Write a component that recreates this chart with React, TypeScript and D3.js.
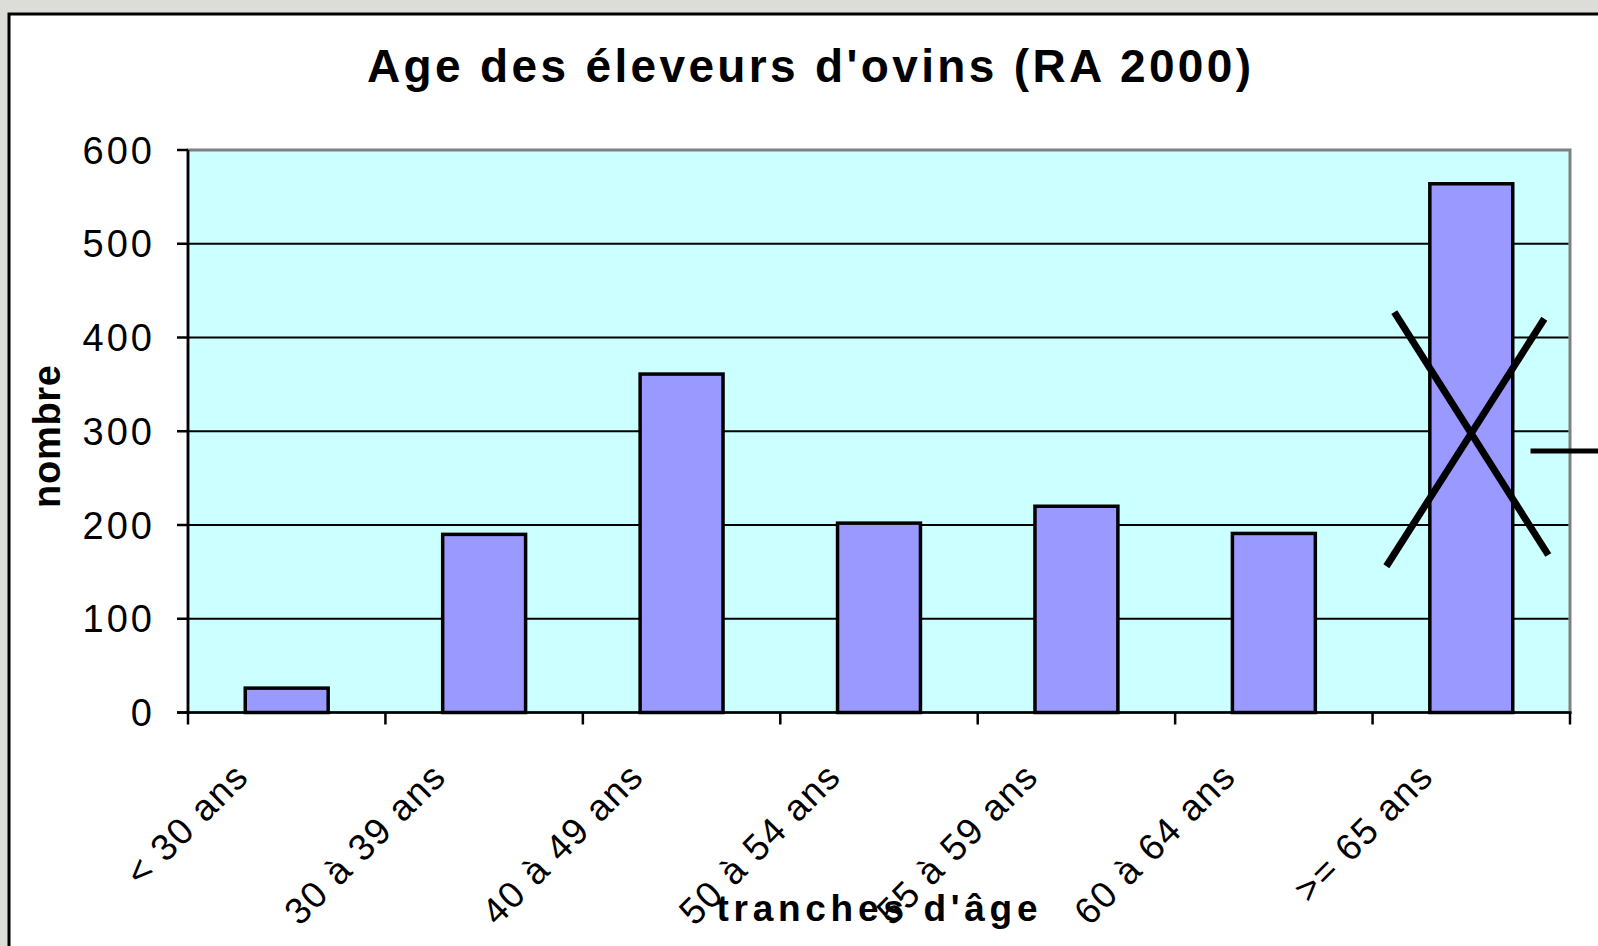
import React, { useRef, useEffect } from 'react';
import * as d3 from 'd3';

const categories = ['< 30 ans', '30 à 39 ans', '40 à 49 ans', '50 à 54 ans', '55 à 59 ans', '60 à 64 ans', '>= 65 ans'];
const values = [26, 190, 361, 202, 220, 191, 564];
const yTicks = [0, 100, 200, 300, 400, 500, 600];

// hand-drawn marks over the last bar, as [fraction of band, value]
const crossLines = [
  { cat: '>= 65 ans', from: [0.11, 427], to: [0.89, 168] },
  { cat: '>= 65 ans', from: [0.87, 420], to: [0.07, 156] },
];
const dashLine = { cat: '>= 65 ans', from: [0.8, 279], to: [1.3, 279] };

const FONT = '"Liberation Sans", Arial, sans-serif';

const App: React.FC = () => {
  const ref = useRef<SVGSVGElement | null>(null);

  useEffect(() => {
    if (!ref.current) return;
    const width = 1598;
    const height = 946;
    const plot = { left: 188, right: 1570, top: 150, bottom: 712.5 };

    const svg = d3.select(ref.current);
    svg.selectAll('*').remove();
    svg.attr('width', width).attr('height', height);

    const x = d3.scaleBand<string>().domain(categories).range([plot.left, plot.right]).padding(0);
    const y = d3.scaleLinear().domain([0, 600]).range([plot.bottom, plot.top]);
    const bw = x.bandwidth();

    // page background + chart panel
    svg.append('rect').attr('width', width).attr('height', height).attr('fill', '#dcdcd8');
    svg.append('rect')
      .attr('x', 9).attr('y', 14)
      .attr('width', width + 100).attr('height', height + 100)
      .attr('fill', '#ffffff').attr('stroke', '#000').attr('stroke-width', 3);

    // plot area
    svg.append('rect')
      .attr('x', plot.left).attr('y', plot.top)
      .attr('width', plot.right - plot.left).attr('height', plot.bottom - plot.top)
      .attr('fill', '#ccffff').attr('stroke', '#808080').attr('stroke-width', 3);

    svg.append('g')
      .selectAll('line')
      .data(yTicks.filter(t => t > 0 && t < 600))
      .enter()
      .append('line')
      .attr('x1', plot.left).attr('x2', plot.right - 1.5)
      .attr('y1', d => y(d)).attr('y2', d => y(d))
      .attr('stroke', '#000').attr('stroke-width', 2);

    // bars
    const barW = bw * 0.42;
    svg.append('g')
      .selectAll('rect')
      .data(values)
      .enter()
      .append('rect')
      .attr('x', (d, i) => (x(categories[i]) as number) + (bw - barW) / 2)
      .attr('y', d => y(d))
      .attr('width', barW)
      .attr('height', d => y(0) - y(d))
      .attr('fill', '#9999ff')
      .attr('stroke', '#000')
      .attr('stroke-width', 3.5);

    // axes
    svg.append('line')
      .attr('x1', plot.left).attr('x2', plot.left)
      .attr('y1', plot.top).attr('y2', plot.bottom)
      .attr('stroke', '#000').attr('stroke-width', 2.5);
    svg.append('line')
      .attr('x1', plot.left - 11).attr('x2', plot.right + 1.5)
      .attr('y1', plot.bottom).attr('y2', plot.bottom)
      .attr('stroke', '#000').attr('stroke-width', 2.5);

    const yAxis = svg.append('g');
    yTicks.forEach(t => {
      yAxis.append('line')
        .attr('x1', plot.left - 11).attr('x2', plot.left)
        .attr('y1', y(t)).attr('y2', y(t))
        .attr('stroke', '#000').attr('stroke-width', 2.5);
      yAxis.append('text')
        .attr('x', 155).attr('y', y(t) + 13.5)
        .attr('text-anchor', 'end')
        .style('font-family', FONT).style('font-size', '38px').style('letter-spacing', '3px')
        .attr('fill', '#000')
        .text(t);
    });

    const xAxis = svg.append('g');
    d3.range(categories.length + 1).forEach(i => {
      const xp = plot.left + i * bw;
      xAxis.append('line')
        .attr('x1', xp).attr('x2', xp)
        .attr('y1', plot.bottom).attr('y2', plot.bottom + 12)
        .attr('stroke', '#000').attr('stroke-width', 2.5);
    });
    categories.forEach(c => {
      const cx = (x(c) as number) + bw / 2 - 36;
      xAxis.append('text')
        .attr('transform', `translate(${cx},${plot.bottom + 66}) rotate(-45)`)
        .attr('text-anchor', 'end')
        .style('font-family', FONT).style('font-size', '37px').style('letter-spacing', '1.5px')
        .attr('fill', '#000')
        .text(c);
    });

    // titles
    svg.append('text')
      .attr('x', 809).attr('y', 81.5)
      .attr('text-anchor', 'middle')
      .attr('textLength', 884).attr('lengthAdjust', 'spacing')
      .style('font-family', FONT).style('font-size', '46px').style('font-weight', 'bold')
      .text("Age des éleveurs d'ovins (RA 2000)");

    svg.append('text')
      .attr('x', 877).attr('y', 921)
      .attr('text-anchor', 'middle')
      .attr('textLength', 321).attr('lengthAdjust', 'spacing')
      .style('font-family', FONT).style('font-size', '37px').style('font-weight', 'bold')
      .text("tranches d'âge");

    svg.append('text')
      .attr('transform', 'translate(60,436.5) rotate(-90)')
      .attr('text-anchor', 'middle')
      .attr('textLength', 143).attr('lengthAdjust', 'spacing')
      .style('font-family', FONT).style('font-size', '38px').style('font-weight', 'bold')
      .text('nombre');

    // annotation strokes
    const px = (cat: string, f: number) => (x(cat) as number) + f * bw;
    crossLines.forEach(l => {
      svg.append('line')
        .attr('x1', px(l.cat, l.from[0])).attr('y1', y(l.from[1]))
        .attr('x2', px(l.cat, l.to[0])).attr('y2', y(l.to[1]))
        .attr('stroke', '#000').attr('stroke-width', 7);
    });
    svg.append('line')
      .attr('x1', px(dashLine.cat, dashLine.from[0])).attr('y1', y(dashLine.from[1]))
      .attr('x2', px(dashLine.cat, dashLine.to[0])).attr('y2', y(dashLine.to[1]))
      .attr('stroke', '#000').attr('stroke-width', 5);
  }, []);

  return <svg ref={ref} style={{ position: 'absolute', left: 0, top: 0, display: 'block' }}></svg>;
};

export default App;
